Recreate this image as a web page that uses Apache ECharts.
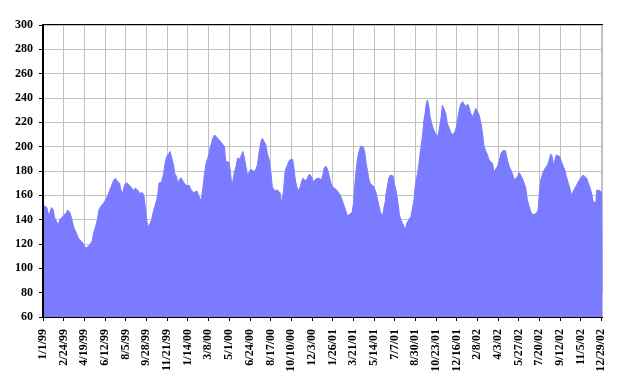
<!DOCTYPE html>
<html>
<head>
<meta charset="utf-8">
<script src="https://cdn.jsdelivr.net/npm/echarts@6/dist/echarts.min.js"></script>
<style>html,body{margin:0;padding:0;background:#fff;}#c{width:625px;height:389px;}</style>
</head>
<body>
<div id="c"></div>
<script>
// Day offsets from 1/1/99 and the matching values
const days = [0,10,15,22,27,30,36,40,44,53,62,64,70,74,77,81,86,92,98,104,108,114,123,129,132,137,142,146,151,157,163,168,173,179,184,189,194,200,203,208,
213,219,223,227,232,236,240,247,252,255,260,264,267,271,274,280,284,288,293,297,300,303,310,315,319,323,328,332,335,337,341,344,349,352,356,360,364,368,375,382,386,393,402,406,412,
415,419,422,426,430,434,436,440,443,448,451,454,458,464,469,474,477,486,490,493,496,500,504,508,514,518,522,525,530,534,539,543,548,552,557,560,564,569,573,577,582,586,591,595,599,604,609,612,617,619,623,
628,631,633,637,640,644,647,652,655,659,663,667,672,675,679,683,687,692,696,702,706,711,715,721,727,731,734,739,743,747,752,756,760,765,769,774,778,782,787,790,795,801,807,811,814,818,821,825,830,
833,837,841,844,848,851,854,859,864,869,874,878,881,885,888,890,894,896,900,903,907,911,914,917,921,924,928,931,935,939,943,947,950,956,961,965,969,972,976,981,985,989,992,
995,998,1001,1004,1008,1011,1015,1019,1023,1029,1033,1036,1040,1043,1048,1052,1056,1061,1065,1070,1076,1080,1084,1088,1091,1096,1100,1104,1109,1113,1117,1122,1126,1130,1135,1139,1144,1148,1152,1157,1161,1165,1170,1174,1178,1183,1187,1191,1196,1201,1208,1213,1218,1222,1226,1231,1235,1239,1244,1248,1252,1257,1261,1265,1270,1274,1279,1284,1289,1293,1297,1300,1305,1309,1313,1318,1322,1326,1330,1333,1337,1341,1346,1350,1354,1359,1363,1367,1372,1376,1380,1385,1389,1394,1398,1402,1407,1411,1415,1420,1424,1428,1433,1437,1441,1444,1446,1450,1455,1459,1460];
const values = [152,150,143,150,148,142,138,136,140,143,146,148,146,142,138,133,130,125,123,121,118,117,119.5,123,129,134,140,148,151,153,156,159,160.5,168,172,174,171.5,170,165,161.5,
168.5,170.4,169,167.7,165.8,163.6,165.8,164.4,161.6,160.3,162.2,159,150.7,139.7,134.2,137,140.3,146.6,152,156.2,161.6,170,171.2,178,186.8,191.8,194,196,197.3,194.5,185,178,175.3,170,172.6,174.5,172.6,170.4,168,168,165,162.2,163.6,160.3,155.6,
159.4,170,178,186.3,190.4,194.5,198.6,202.7,206.8,209.6,210.4,207.7,208.2,204.1,202.7,200,188,187,178,168.5,172,179.5,183.6,190.4,190,193,196,192.3,183.6,176.7,178,181.4,180.8,179.5,182.2,185,194.5,204,206.8,205.5,201.4,194.5,189,179.5,167,163.8,165,164.4,163,162,154,
163,175,181,183.6,186.3,189,190.4,189.6,183.6,172.6,167,163.8,167,171.2,174,172.6,171.8,175.3,177.5,174.8,171.2,172.6,174,174,172.6,176.7,182.2,184,181.4,176.7,170,167,165.8,165,163.6,161.6,158.9,155.3,151.2,148,143.3,144.4,145.8,153.4,167,180.8,189,195.9,200.5,
201.4,199.5,194.5,186.3,179.5,174,170,168.5,167,163,156.2,150.7,146.6,143.3,145.2,149.3,154.8,161.6,168.5,174,176.7,178,175.9,170,165.8,160.3,152,143.8,139.7,137,134.2,132.1,137,140.3,142.5,149.3,156.2,167,174,183.6,194.5,204.1,211,
222,227.4,235.6,238.4,232.9,224.7,219.2,215.1,212.3,207.7,211,216.4,224.7,234.2,235,227.4,219.2,215.1,211.8,209.6,212.3,216.4,224.7,231.5,235,237,235.6,232.9,235,232.3,227.4,224.7,227.4,231.5,228.8,226,219.2,211,200,196,193.2,189,187.7,186.3,179.5,178.6,183.6,187.7,194.5,196.7,196.7,189,183.6,180.8,178,172.6,172,175.3,178.6,177.5,174,169.9,165.8,156.2,150.7,146.6,143.8,142.5,145.2,148,164.4,172.6,178,180.8,183,185,189,194,191.8,185,189,193.2,194.5,191.8,187.7,183.6,180.8,175.3,169.9,165.8,160.3,161.6,165.8,168.5,171.2,173.2,174,176.7,175.3,174,170.4,167,161.6,154.8,153.4,154,164.4,165,163.8,161.6,79];
const tickLabels = ['1/1/99','2/24/99','4/19/99','6/12/99','8/5/99','9/28/99','11/21/99','1/14/00','3/8/00','5/1/00','6/24/00','8/17/00','10/10/00','12/3/00','1/26/01','3/21/01','5/14/01','7/7/01','8/30/01','10/23/01','12/16/01','2/8/02','4/3/02','5/27/02','7/20/02','9/12/02','11/5/02','12/29/02'];
const tickStep = 54;

const chart = echarts.init(document.getElementById('c'), null, {renderer: 'canvas'});
const fontBase = {fontFamily: 'Liberation Serif', fontWeight: 'bold', fontSize: 12, color: '#000'};
chart.setOption({
  animation: false,
  backgroundColor: '#fff',
  grid: {left: 43, right: 23, top: 25, bottom: 72, show: true, borderColor: '#000', borderWidth: 2, backgroundColor: 'transparent'},
  xAxis: {
    type: 'value', min: 0, max: 1460, interval: tickStep,
    axisLine: {show: true, lineStyle: {color: '#000', width: 1}},
    axisTick: {show: true, inside: false, length: 4, lineStyle: {color: '#000'}},
    splitLine: {show: true, lineStyle: {color: '#c0c0c0', width: 1}},
    axisLabel: Object.assign({}, fontBase, {
      rotate: 90, margin: 12, showMaxLabel: false,
      formatter: function (v) { return (v % tickStep === 0) ? (tickLabels[v / tickStep] || '') : ''; }
    })
  },
  yAxis: [{
    type: 'value', min: 60, max: 300, interval: 20,
    axisLine: {show: false}, axisTick: {show: false}, axisLabel: {show: false},
    splitLine: {show: true, lineStyle: {color: '#c0c0c0', width: 1}}
  }, {
    type: 'value', min: 60, max: 300, interval: 20, position: 'left', z: 5,
    axisLine: {show: true, lineStyle: {color: '#000', width: 2}},
    axisTick: {show: true, inside: false, length: 4, lineStyle: {color: '#000'}},
    splitLine: {show: false},
    axisLabel: Object.assign({}, fontBase, {margin: 10})
  }],
  series: [{
    type: 'line',
    yAxisIndex: 0,
    data: days.map((d, i) => [d, values[i]]),
    showSymbol: false,
    symbol: 'none',
    lineStyle: {width: 1, color: '#7b7bff'},
    areaStyle: {color: '#7b7bff', opacity: 1, origin: 'start'},
    itemStyle: {color: '#7b7bff'},
    z: 2
  }]
});
</script>
</body>
</html>
